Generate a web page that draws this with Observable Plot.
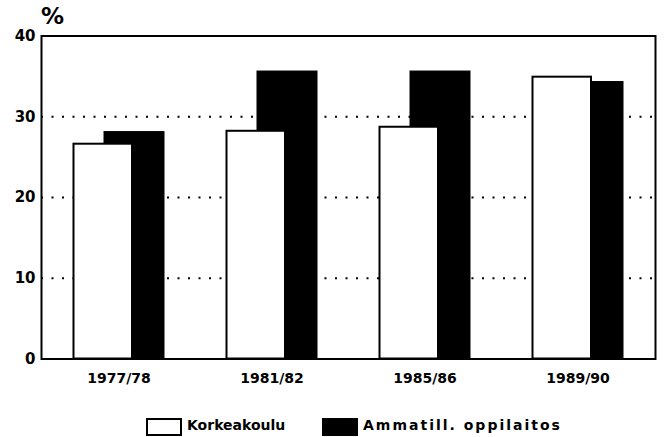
<!DOCTYPE html>
<html>
<head>
<meta charset="utf-8">
<script src="https://cdn.jsdelivr.net/npm/d3@7"></script>
<script src="https://cdn.jsdelivr.net/npm/@observablehq/plot@0.6"></script>
<style>
  html, body { margin: 0; padding: 0; background: #fff; }
  body { width: 664px; height: 437px; overflow: hidden; font-family: "DejaVu Sans", sans-serif; }
  #legend { position: relative; height: 37px; font-weight: bold; font-size: 14px; color: #000; }
  .sw { position: absolute; top: 18px; width: 32px; height: 14px; border: 2px solid #000; box-sizing: content-box; }
  .lab { position: absolute; top: 16px; line-height: 18px; }
</style>
</head>
<body>
<div id="chart"></div>
<div id="legend"></div>
<script>
const periods = ["1977/78", "1981/82", "1985/86", "1989/90"];
const seriesNames = ["Korkeakoulu", "Ammatill. oppilaitos"];
const korkeakoulu = [26.6, 28.2, 28.7, 34.9];
const ammatill = [28.1, 35.6, 35.6, 34.3];
const yTicks = [0, 10, 20, 30, 40];
const gridValues = [10, 20, 30];

const rowsK = periods.map((p, i) => ({period: p, value: korkeakoulu[i]}));
const rowsA = periods.map((p, i) => ({period: p, value: ammatill[i]}));

const chart = Plot.plot({
  width: 664,
  height: 400,
  marginLeft: 41,
  marginRight: 9,
  marginTop: 35.5,
  marginBottom: 41.5,
  style: {fontFamily: "DejaVu Sans", fontWeight: "bold", color: "#000", background: "#fff"},
  x: {domain: periods, padding: 0, label: null},
  y: {domain: [0, 40], label: null},
  marks: [
    Plot.ruleY(gridValues, {stroke: "#000", strokeWidth: 2, strokeDasharray: "2,8.5"}),
    Plot.barY(rowsA, {x: "period", y: "value", fill: "#000", stroke: "#000", strokeWidth: 1, insetLeft: 62, insetRight: 31}),
    Plot.barY(rowsK, {x: "period", y: "value", fill: "#fff", stroke: "#000", strokeWidth: 2, insetLeft: 31.5, insetRight: 63}),
    Plot.frame({stroke: "#000", strokeWidth: 2}),
    Plot.axisX({tickSize: 0, tickPadding: 14.5, fontSize: 14, fontWeight: "bold", label: null}),
    Plot.axisY({ticks: yTicks, tickSize: 0, tickPadding: 6, fontSize: 15, fontWeight: "bold", label: null, tickFormat: d => String(d)}),
    Plot.text(["%"], {frameAnchor: "top-left", dx: 11, dy: -19, fontSize: 23, fontWeight: "bold", textAnchor: "middle", lineAnchor: "middle"})
  ]
});
document.getElementById("chart").appendChild(chart);

const legend = document.getElementById("legend");
const items = [
  {name: seriesNames[0], fill: "#fff", boxLeft: 146, textLeft: 187, spacing: "0px"},
  {name: seriesNames[1], fill: "#000", boxLeft: 322, textLeft: 363, spacing: "2px"}
];
for (const it of items) {
  const sw = document.createElement("div");
  sw.className = "sw";
  sw.style.left = it.boxLeft + "px";
  sw.style.background = it.fill;
  legend.appendChild(sw);
  const t = document.createElement("div");
  t.className = "lab";
  t.style.left = it.textLeft + "px";
  t.style.letterSpacing = it.spacing;
  t.textContent = it.name;
  legend.appendChild(t);
}
</script>
</body>
</html>
